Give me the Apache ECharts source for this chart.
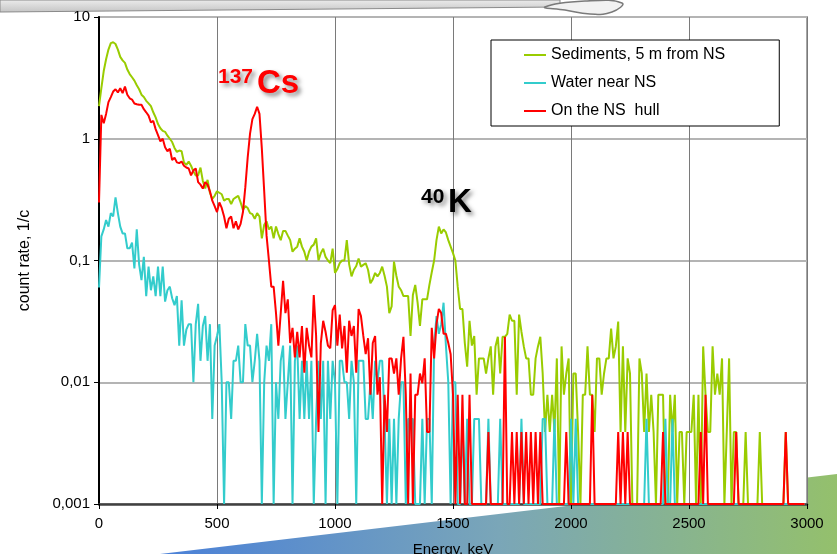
<!DOCTYPE html>
<html><head><meta charset="utf-8">
<script src="https://cdn.jsdelivr.net/npm/echarts@6/dist/echarts.min.js"></script>
<style>html,body{margin:0;padding:0;background:#fff;overflow:hidden}#c{width:837px;height:554px}</style>
</head><body><div id="c"></div>
<script>
// channel width of the spectra (keV)
const energyStepKeV = 10;
const xTickValues = [0, 500, 1000, 1500, 2000, 2500, 3000];
const yTickLabels = { '10': '10', '1': '1', '0.1': '0,1', '0.01': '0,01', '0.001': '0,001' };
const seriesNames = ['Sediments, 5 m from NS', 'Water near NS', 'On the NS  hull'];

// count rate, 1/c  (0.001 = empty channel, drawn on the axis floor)
const sediments = [
1.85,2.6,3.6,4.5,5.4,6.1,6.2,6.0,5.4,4.7,
4.4,4.2,3.7,3.4,3.2,3.0,2.75,2.55,2.3,2.2,
2.05,1.95,1.85,1.65,1.5,1.32,1.22,1.16,1.14,1.06,
1.0,0.94,0.84,0.78,0.8,0.79,0.64,0.61,0.65,0.6,
0.54,0.5,0.5,0.58,0.45,0.39,0.46,0.36,0.32,0.34,
0.37,0.36,0.35,0.31,0.32,0.32,0.29,0.32,0.33,0.34,
0.3,0.26,0.28,0.27,0.245,0.24,0.22,0.245,0.23,0.152,
0.196,0.21,0.18,0.19,0.152,0.19,0.165,0.147,0.175,0.175,
0.16,0.147,0.118,0.125,0.13,0.152,0.13,0.118,0.1,0.118,
0.13,0.135,0.152,0.1,0.115,0.125,0.107,0.1,0.095,0.125,
0.079,0.085,0.095,0.1,0.1,0.147,0.093,0.074,0.084,0.09,
0.104,0.089,0.092,0.095,0.084,0.065,0.07,0.079,0.074,0.079,
0.089,0.075,0.061,0.037,0.042,0.098,0.075,0.061,0.057,0.051,
0.051,0.051,0.024,0.052,0.063,0.045,0.029,0.048,0.048,0.048,
0.063,0.08,0.1,0.147,0.19,0.167,0.18,0.17,0.147,0.13,
0.115,0.1,0.061,0.04,0.04,0.021,0.0134,0.032,0.02,0.024,
0.0079,0.0157,0.0157,0.0157,0.0118,0.0157,0.0197,0.0079,0.0197,0.0236,
0.0118,0.0236,0.0236,0.025,0.036,0.032,0.032,0.0079,0.036,0.026,
0.0197,0.0157,0.0157,0.0079,0.0079,0.0157,0.0197,0.0236,0.0118,0.0039,
0.0079,0.0039,0.0079,0.0039,0.0157,0.001,0.0197,0.0079,0.0118,0.0157,
0.001,0.0118,0.0118,0.0039,0.001,0.0079,0.0079,0.0197,0.0079,0.0079,
0.0039,0.0157,0.0157,0.0079,0.0118,0.0157,0.0157,0.0276,0.0157,0.0197,
0.0315,0.0039,0.0197,0.0039,0.0157,0.0118,0.001,0.001,0.001,0.0157,
0.0118,0.0039,0.0118,0.0039,0.0079,0.0039,0.001,0.0079,0.0079,0.0079,
0.001,0.001,0.0079,0.0039,0.0079,0.001,0.0039,0.0039,0.001,0.0039,
0.0039,0.0039,0.0079,0.001,0.0079,0.001,0.0197,0.0079,0.0039,0.0039,
0.0197,0.0079,0.0118,0.0079,0.0157,0.001,0.0039,0.0157,0.001,0.0039,
0.0039,0.001,0.001,0.001,0.0039,0.001,0.001,0.001,0.001,0.001,
0.0039,0.001,0.001,0.001,0.001,0.001,0.001,0.001,0.001,0.001,
0.001,0.0039,0.001,0.001,0.001,0.001,0.001,0.001,0.001,0.001
];
const water = [
0.06,0.158,0.18,0.215,0.19,0.245,0.23,0.33,0.245,0.19,
0.167,0.167,0.126,0.126,0.14,0.086,0.18,0.093,0.069,0.107,
0.051,0.089,0.057,0.074,0.051,0.089,0.051,0.089,0.046,0.057,
0.061,0.049,0.043,0.051,0.02,0.047,0.02,0.027,0.03,0.03,
0.01,0.03,0.044,0.015,0.029,0.035,0.015,0.03,0.005,0.02,
0.024,0.03,0.01,0.001,0.01,0.01,0.005,0.015,0.015,0.02,
0.01,0.01,0.03,0.02,0.02,0.01,0.015,0.025,0.015,0.001,
0.01,0.02,0.015,0.03,0.001,0.01,0.005,0.015,0.02,0.005,
0.01,0.02,0.001,0.015,0.02,0.005,0.015,0.005,0.015,0.005,
0.015,0.001,0.005,0.015,0.005,0.015,0.001,0.015,0.005,0.015,
0.01,0.001,0.015,0.015,0.01,0.01,0.005,0.015,0.01,0.001,
0.015,0.015,0.015,0.005,0.005,0.01,0.005,0.015,0.01,0.015,
0.015,0.005,0.001,0.005,0.001,0.005,0.001,0.005,0.01,0.01,
0.001,0.005,0.005,0.005,0.001,0.001,0.001,0.005,0.001,0.005,
0.005,0.001,0.02,0.035,0.025,0.03,0.045,0.02,0.01,0.001,
0.01,0.01,0.001,0.001,0.005,0.001,0.005,0.001,0.001,0.005,
0.005,0.005,0.001,0.001,0.001,0.005,0.001,0.001,0.001,0.001,
0.005,0.001,0.001,0.001,0.001,0.001,0.001,0.001,0.001,0.005,
0.001,0.001,0.001,0.001,0.001,0.001,0.001,0.001,0.005,0.005,
0.001,0.001,0.001,0.005,0.001,0.001,0.001,0.001,0.001,0.001,
0.005,0.001,0.005,0.001,0.001,0.001,0.001,0.001,0.001,0.001,
0.001,0.001,0.001,0.001,0.001,0.001,0.001,0.001,0.001,0.001,
0.001,0.001,0.001,0.001,0.001,0.001,0.001,0.001,0.001,0.001,
0.001,0.001,0.005,0.001,0.001,0.001,0.001,0.001,0.001,0.001,
0.005,0.001,0.001,0.005,0.001,0.001,0.001,0.001,0.001,0.001,
0.001,0.001,0.001,0.001,0.001,0.001,0.001,0.001,0.001,0.001,
0.001,0.001,0.001,0.001,0.001,0.001,0.001,0.001,0.001,0.001,
0.001,0.001,0.001,0.001,0.001,0.001,0.001,0.001,0.001,0.001,
0.001,0.001,0.001,0.001,0.001,0.001,0.001,0.001,0.001,0.001,
0.001,0.001,0.001,0.001,0.001,0.001,0.001,0.001,0.001,0.001
];
const hull = [
0.3,1.57,1.34,1.6,2.0,2.2,2.44,2.55,2.4,2.6,
2.37,2.68,2.3,2.15,2.1,1.95,1.92,1.9,1.9,1.75,
1.65,1.55,1.36,1.4,1.2,1.07,0.95,1.0,0.85,0.79,
0.83,0.67,0.7,0.64,0.63,0.65,0.6,0.58,0.57,0.5,
0.55,0.57,0.44,0.42,0.39,0.44,0.42,0.37,0.31,0.28,
0.25,0.3,0.27,0.23,0.184,0.22,0.23,0.184,0.21,0.18,
0.2,0.25,0.4,0.7,1.1,1.45,1.6,1.83,1.6,0.83,
0.37,0.16,0.1,0.061,0.061,0.037,0.02,0.037,0.068,0.037,
0.048,0.021,0.028,0.016,0.026,0.016,0.029,0.012,0.028,0.02,
0.016,0.052,0.024,0.0039,0.021,0.032,0.026,0.02,0.019,0.039,
0.043,0.02,0.036,0.019,0.029,0.012,0.032,0.024,0.029,0.012,
0.04,0.035,0.024,0.017,0.023,0.0079,0.021,0.024,0.0079,0.011,
0.001,0.0079,0.0039,0.0157,0.0157,0.0118,0.0157,0.0079,0.0157,0.0236,
0.0079,0.001,0.0118,0.001,0.0079,0.0079,0.0118,0.0098,0.0157,0.0039,
0.0039,0.028,0.0157,0.03,0.04,0.037,0.025,0.025,0.021,0.017,
0.0079,0.001,0.0079,0.001,0.0079,0.001,0.001,0.0079,0.001,0.001,
0.001,0.001,0.001,0.001,0.001,0.0039,0.001,0.001,0.001,0.001,
0.001,0.001,0.0236,0.001,0.001,0.0039,0.001,0.0039,0.001,0.0039,
0.001,0.0039,0.001,0.0039,0.001,0.0039,0.001,0.0039,0.001,0.001,
0.001,0.001,0.001,0.001,0.001,0.001,0.001,0.001,0.0039,0.001,
0.001,0.001,0.001,0.001,0.001,0.001,0.001,0.001,0.001,0.0079,
0.001,0.001,0.001,0.001,0.001,0.001,0.001,0.001,0.001,0.001,
0.0039,0.001,0.0039,0.001,0.0039,0.001,0.001,0.001,0.001,0.001,
0.001,0.001,0.001,0.001,0.001,0.001,0.001,0.001,0.001,0.0039,
0.001,0.001,0.001,0.001,0.001,0.001,0.001,0.001,0.001,0.001,
0.001,0.001,0.001,0.001,0.001,0.0039,0.001,0.0079,0.001,0.001,
0.001,0.001,0.001,0.001,0.001,0.001,0.001,0.001,0.001,0.001,
0.0039,0.001,0.001,0.001,0.001,0.001,0.001,0.001,0.001,0.001,
0.001,0.001,0.001,0.001,0.001,0.001,0.001,0.001,0.001,0.001,
0.001,0.0039,0.001,0.001,0.001,0.001,0.001,0.001,0.001,0.001
];

const FONT = '"Liberation Sans", Arial, sans-serif';
const toPairs = arr => arr.map((v, i) => [i * energyStepKeV, v]);
const fmtY = v => {
  const key = String(+Number(v).toPrecision(3));
  return yTickLabels[key] !== undefined ? yTickLabels[key] : '';
};
const fmtX = v => (xTickValues.indexOf(v) >= 0 ? String(v) : '');
const shadow = { textShadowColor: 'rgba(0,0,0,0.45)', textShadowBlur: 4, textShadowOffsetX: 3, textShadowOffsetY: 3 };

const chart = echarts.init(document.getElementById('c'), null, { renderer: 'canvas' });
const mkSeries = (name, data, color) => ({
  name, type: 'line', data: toPairs(data), showSymbol: false, symbol: 'none',
  lineStyle: { color, width: 2 }, itemStyle: { color }, animation: false, clip: true
});

const ribbonFill = { type: 'linear', x: 0, y: 0, x2: 1, y2: 0, colorStops: [
  { offset: 0, color: '#4a80d8' }, { offset: 0.5, color: '#7aa6b8' }, { offset: 1, color: '#94c06c' }] };
const bandFill = { type: 'linear', x: 0, y: 0, x2: 0, y2: 1, colorStops: [
  { offset: 0, color: '#ececec' }, { offset: 1, color: '#c4c4c4' }] };

chart.setOption({
  animation: false,
  backgroundColor: '#ffffff',
  grid: { left: 99, right: 30, top: 17, bottom: 50, show: true, backgroundColor: '#ffffff',
          borderColor: '#a6a6a6', borderWidth: 2, containLabel: false, outerBoundsMode: 'none' },
  legend: {
    orient: 'vertical', left: 491, top: 40, padding: [6, 54, 6, 33], itemGap: 10,
    itemWidth: 22, itemHeight: 2, icon: 'rect', backgroundColor: '#ffffff',
    borderColor: '#000000', borderWidth: 1,
    textStyle: { fontFamily: FONT, fontSize: 16, color: '#000', lineHeight: 18 },
    data: seriesNames
  },
  xAxis: {
    type: 'value', min: 0, max: 3000, interval: 500,
    name: 'Energy, keV', nameLocation: 'middle', nameGap: 38,
    nameTextStyle: { fontFamily: FONT, fontSize: 15, color: '#000' },
    axisLine: { lineStyle: { color: '#404040', width: 2.5 } },
    axisTick: { show: true, inside: false, length: 5, lineStyle: { color: '#000', width: 1 } },
    axisLabel: { fontFamily: FONT, fontSize: 15, color: '#000', margin: 12, formatter: fmtX },
    splitLine: { show: true, lineStyle: { color: '#7a7a7a', width: 1 } }
  },
  yAxis: {
    type: 'log', logBase: 10, min: 0.001, max: 10,
    name: 'count rate, 1/c', nameLocation: 'middle', nameGap: 66, nameRotate: 90,
    nameTextStyle: { fontFamily: FONT, fontSize: 16, color: '#000' },
    axisLine: { show: true, lineStyle: { color: '#000', width: 2 } },
    axisTick: { show: true, inside: false, length: 5, lineStyle: { color: '#000', width: 1 } },
    axisLabel: { fontFamily: FONT, fontSize: 15, color: '#000', margin: 9, formatter: fmtY },
    splitLine: { show: true, lineStyle: { color: '#b4b4b4', width: 2 } }
  },
  series: [
    mkSeries(seriesNames[0], sediments, '#99cc00'),
    mkSeries(seriesNames[1], water, '#33cccc'),
    mkSeries(seriesNames[2], hull, '#ff0000')
  ],
  graphic: [
    { type: 'polygon', z: -10, silent: true,
      shape: { points: [[160, 554], [837, 474], [837, 554]] },
      style: { fill: ribbonFill } },
    { type: 'polygon', z: -10, silent: true,
      shape: { points: [[0, 0], [560, 0], [560, 7], [0, 12]] },
      style: { fill: bandFill, stroke: '#8a8a8a', lineWidth: 1 } },
    { type: 'polygon', z: -9, silent: true,
      shape: { points: [[545, 7], [585, 1], [622, 3], [612, 12], [590, 14], [565, 10]], smooth: 0.5 },
      style: { fill: '#f2f2f2', stroke: '#7a7a7a', lineWidth: 1.5 } },
    { type: 'text', z: 50, silent: true, left: 218, top: 67,
      style: Object.assign({ text: '137', font: 'bold 21px ' + FONT, fill: '#ff0000' }, shadow) },
    { type: 'text', z: 50, silent: true, left: 257, top: 67,
      style: Object.assign({ text: 'Cs', font: 'bold 33px ' + FONT, fill: '#ff0000' }, shadow) },
    { type: 'text', z: 50, silent: true, left: 421, top: 187,
      style: Object.assign({ text: '40', font: 'bold 21px ' + FONT, fill: '#000000' }, shadow) },
    { type: 'text', z: 50, silent: true, left: 448, top: 186,
      style: Object.assign({ text: 'K', font: 'bold 33px ' + FONT, fill: '#000000' }, shadow) }
  ]
});
</script></body></html>
